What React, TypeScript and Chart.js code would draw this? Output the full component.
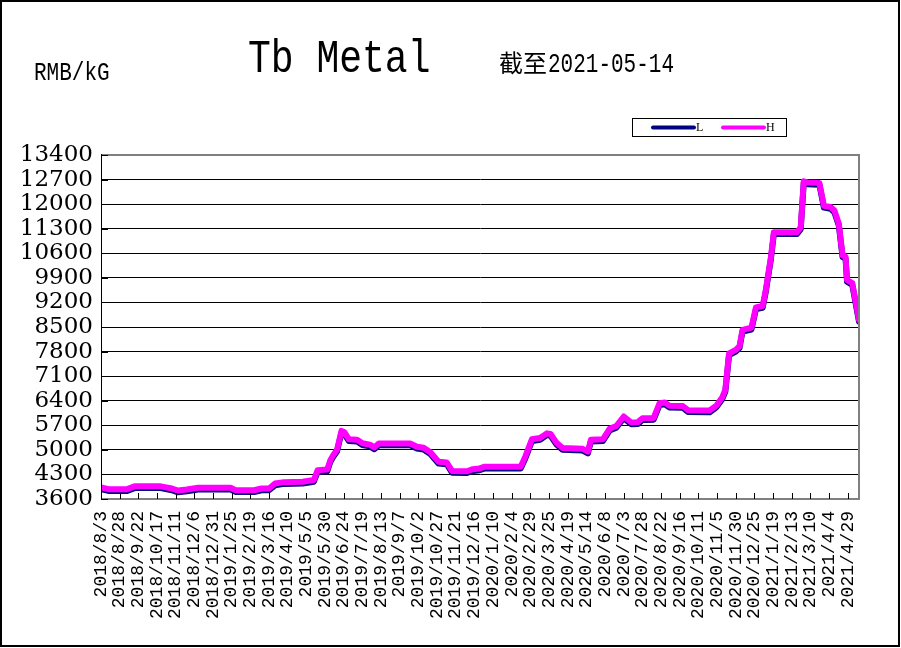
import React, { useEffect, useRef } from "react";
import { Chart, registerables } from "chart.js";

Chart.register(...registerables);

// ---- data ----
const dates: string[] = [
  "2018-08-03", "2018-08-13", "2018-09-07", "2018-09-17", "2018-10-22", "2018-11-06", "2018-11-14", "2018-11-26",
  "2018-12-11", "2019-01-24", "2019-01-30", "2019-02-24", "2019-03-06", "2019-03-16", "2019-03-24", "2019-04-05",
  "2019-04-30", "2019-05-15", "2019-05-20", "2019-06-02", "2019-06-06", "2019-06-10", "2019-06-15", "2019-06-21",
  "2019-06-25", "2019-07-01", "2019-07-12", "2019-07-19", "2019-07-29", "2019-08-04", "2019-08-10", "2019-09-21",
  "2019-09-30", "2019-10-09", "2019-10-18", "2019-10-29", "2019-11-09", "2019-11-16", "2019-12-06", "2019-12-14",
  "2019-12-23", "2019-12-30", "2020-02-16", "2020-02-22", "2020-03-02", "2020-03-13", "2020-03-22", "2020-03-27",
  "2020-04-04", "2020-04-12", "2020-05-09", "2020-05-16", "2020-05-20", "2020-06-05", "2020-06-14", "2020-06-23",
  "2020-07-03", "2020-07-13", "2020-07-22", "2020-07-28", "2020-08-12", "2020-08-20", "2020-08-27", "2020-09-02",
  "2020-09-20", "2020-09-27", "2020-10-26", "2020-11-04", "2020-11-12", "2020-11-16", "2020-11-21", "2020-11-30",
  "2020-12-05", "2020-12-09", "2020-12-21", "2020-12-27", "2021-01-05", "2021-01-09", "2021-01-16", "2021-01-20",
  "2021-02-20", "2021-02-25", "2021-03-01", "2021-03-06", "2021-03-22", "2021-03-28", "2021-04-06", "2021-04-11",
  "2021-04-17", "2021-04-22", "2021-04-26", "2021-04-28", "2021-05-05", "2021-05-14",
];

const highPrices: number[] = [
  3930, 3880, 3880, 3960, 3960, 3900, 3840, 3870,
  3920, 3920, 3850, 3850, 3900, 3900, 4040, 4080,
  4090, 4140, 4420, 4440, 4700, 4850, 5000, 5540,
  5500, 5300, 5290, 5190, 5150, 5070, 5180, 5180,
  5090, 5060, 4930, 4660, 4640, 4400, 4390, 4450,
  4470, 4520, 4520, 4800, 5300, 5340, 5470, 5450,
  5200, 5050, 5030, 4950, 5290, 5300, 5600, 5680,
  5950, 5780, 5790, 5900, 5910, 6330, 6350, 6260,
  6250, 6130, 6120, 6260, 6500, 6710, 7750, 7850,
  7950, 8420, 8480, 9060, 9100, 9530, 10480, 11200,
  11200, 11340, 12650, 12620, 12600, 11950, 11920, 11820,
  11440, 10540, 10500, 9840, 9750, 8700,
];

const lowPrices: number[] = [
  3880, 3830, 3830, 3910, 3910, 3850, 3790, 3820,
  3870, 3870, 3800, 3800, 3850, 3850, 3990, 4030,
  4040, 4090, 4370, 4390, 4650, 4800, 4950, 5490,
  5450, 5250, 5240, 5140, 5100, 5020, 5130, 5130,
  5040, 5010, 4880, 4610, 4590, 4350, 4340, 4400,
  4420, 4470, 4470, 4750, 5250, 5290, 5420, 5400,
  5150, 5000, 4980, 4900, 5240, 5250, 5550, 5630,
  5900, 5730, 5740, 5850, 5860, 6280, 6300, 6210,
  6200, 6080, 6070, 6210, 6450, 6660, 7700, 7800,
  7900, 8370, 8430, 9010, 9050, 9480, 10430, 11150,
  11150, 11290, 12600, 12570, 12550, 11900, 11870, 11770,
  11390, 10490, 10450, 9790, 9700, 8650,
];

const tickLabels: string[] = [
  "2018/8/3", "2018/8/28", "2018/9/22", "2018/10/17", "2018/11/11", "2018/12/6", "2018/12/31",
  "2019/1/25", "2019/2/19", "2019/3/16", "2019/4/10", "2019/5/5", "2019/5/30", "2019/6/24",
  "2019/7/19", "2019/8/13", "2019/9/7", "2019/10/2", "2019/10/27", "2019/11/21", "2019/12/16",
  "2020/1/10", "2020/2/4", "2020/2/29", "2020/3/25", "2020/4/19", "2020/5/14", "2020/6/8",
  "2020/7/3", "2020/7/28", "2020/8/22", "2020/9/16", "2020/10/11", "2020/11/5", "2020/11/30",
  "2020/12/25", "2021/1/19", "2021/2/13", "2021/3/10", "2021/4/4", "2021/4/29",
];

const yTicks: number[] = [3600, 4300, 5000, 5700, 6400, 7100, 7800, 8500, 9200, 9900, 10600, 11300, 12000, 12700, 13400];

const seriesNames: string[] = ["L", "H"];
const seriesColors: string[] = ["#000080", "#FF00FF"];

const titleText = "Tb Metal";
const unitText = "RMB/kG";
const datePrefix = "截至";
const dateText = "2021-05-14";

// ---- helpers ----
function toUTC(s: string): number {
  const parts = s.split(/[-/]/).map((p) => parseInt(p, 10));
  return Date.UTC(parts[0], parts[1] - 1, parts[2]);
}
const baseTime = toUTC(dates[0]);
const dayOf = (s: string) => Math.round((toUTC(s) - baseTime) / 86400000);
const tickDays = tickLabels.map(dayOf);
const lastDay = dayOf(dates[dates.length - 1]);

function scaledText(ctx: CanvasRenderingContext2D, text: string, x: number, y: number, font: string, sy: number) {
  ctx.save();
  ctx.font = font;
  ctx.fillStyle = "#000";
  ctx.textBaseline = "alphabetic";
  ctx.textAlign = "left";
  ctx.translate(x, y);
  ctx.scale(1, sy);
  ctx.fillText(text, 0, 0);
  ctx.restore();
}

const decorPlugin = {
  id: "decor",
  afterDraw(chart: any) {
    const ctx: CanvasRenderingContext2D = chart.ctx;
    const { left, right, top, bottom } = chart.chartArea;
    const xs = chart.scales.x;
    const ys = chart.scales.y;
    ctx.save();

    // plot frame (gray) on top/right/bottom
    ctx.strokeStyle = "#808080";
    ctx.lineWidth = 2;
    ctx.beginPath();
    ctx.moveTo(left, top);
    ctx.lineTo(right, top);
    ctx.lineTo(right, bottom);
    ctx.lineTo(left, bottom);
    ctx.stroke();

    // left axis line
    ctx.strokeStyle = "#000";
    ctx.lineWidth = 1;
    ctx.beginPath();
    ctx.moveTo(left + 0.5, top - 1);
    ctx.lineTo(left + 0.5, bottom + 1);
    ctx.stroke();

    // inner ticks on x axis
    ctx.beginPath();
    tickDays.forEach((d) => {
      const px = Math.round(xs.getPixelForValue(d)) + 0.5;
      ctx.moveTo(px, bottom);
      ctx.lineTo(px, bottom - 6);
    });
    // inner ticks on y axis
    yTicks.forEach((v) => {
      const py = Math.round(ys.getPixelForValue(v)) + 0.5;
      ctx.moveTo(left, py);
      ctx.lineTo(left + 7, py);
    });
    ctx.stroke();

    // outer border
    ctx.fillStyle = "#000";
    ctx.fillRect(0, 0, 900, 2);
    ctx.fillRect(0, 0, 2, 647);
    ctx.fillRect(898, 0, 2, 647);
    ctx.fillRect(0, 645, 900, 2);

    // texts
    scaledText(ctx, titleText, 248, 72, '38px "Liberation Mono"', 1.2);
    scaledText(ctx, unitText, 34, 80, '21px "Liberation Mono"', 1.2);
    ctx.font = '24px "Noto Sans CJK SC"';
    ctx.fillStyle = "#000";
    ctx.textBaseline = "alphabetic";
    ctx.textAlign = "left";
    ctx.fillText(datePrefix, 499, 72);
    scaledText(ctx, dateText, 548, 72, '21px "Liberation Mono"', 1.3);

    // legend
    ctx.strokeStyle = "#000";
    ctx.lineWidth = 1;
    ctx.strokeRect(632.5, 118.5, 154, 18);
    const items = [
      { x0: 653, x1: 694, tx: 696 },
      { x0: 723, x1: 764, tx: 766 },
    ];
    items.forEach((it, i) => {
      ctx.strokeStyle = seriesColors[i];
      ctx.lineWidth = 4;
      ctx.lineCap = "round";
      ctx.beginPath();
      ctx.moveTo(it.x0, 127.5);
      ctx.lineTo(it.x1, 127.5);
      ctx.stroke();
      ctx.fillStyle = "#000";
      ctx.font = '12px "Liberation Serif"';
      ctx.textBaseline = "middle";
      ctx.fillText(seriesNames[i], it.tx, 128);
    });
    ctx.restore();
  },
};

export default function App() {
  const ref = useRef<HTMLCanvasElement | null>(null);
  useEffect(() => {
    document.body.style.margin = "0";
    const canvas = ref.current;
    if (!canvas) return;
    const mk = (vals: number[]) => dates.map((d, i) => ({ x: dayOf(d), y: vals[i] }));
    const chart = new Chart(canvas, {
      type: "line",
      data: {
        datasets: [
          {
            label: seriesNames[0],
            data: mk(lowPrices),
            borderColor: seriesColors[0],
            backgroundColor: seriesColors[0],
            borderWidth: 6,
            pointRadius: 0,
            tension: 0,
            borderJoinStyle: "round",
            borderCapStyle: "round",
            fill: false,
            order: 1,
          },
          {
            label: seriesNames[1],
            data: mk(highPrices),
            borderColor: seriesColors[1],
            backgroundColor: seriesColors[1],
            borderWidth: 6,
            pointRadius: 0,
            tension: 0,
            borderJoinStyle: "round",
            borderCapStyle: "round",
            fill: false,
            order: 0,
          },
        ],
      } as any,
      options: {
        responsive: false,
        animation: false,
        devicePixelRatio: 1,
        layout: { padding: { top: 155, right: 42, bottom: 0, left: 0 } },
        plugins: {
          legend: { display: false },
          title: { display: false },
          tooltip: { enabled: false },
        },
        scales: {
          x: {
            type: "linear",
            min: 0,
            max: lastDay,
            grid: { display: false, drawTicks: false },
            border: { display: false },
            afterBuildTicks: (scale: any) => {
              scale.ticks = tickDays.map((v) => ({ value: v }));
            },
            afterFit: (scale: any) => {
              scale.height = 149;
            },
            ticks: {
              autoSkip: false,
              minRotation: 90,
              maxRotation: 90,
              padding: 12,
              color: "#000",
              font: { family: "Liberation Mono", size: 18 },
              callback: (_v: any, i: number) => tickLabels[i],
            },
          },
          y: {
            type: "linear",
            min: yTicks[0],
            max: yTicks[yTicks.length - 1],
            grid: { color: "#000", lineWidth: 1, drawTicks: false },
            border: { display: true, color: "#000", width: 1 },
            afterBuildTicks: (scale: any) => {
              scale.ticks = yTicks.map((v) => ({ value: v }));
            },
            afterFit: (scale: any) => {
              scale.width = 101;
            },
            ticks: {
              autoSkip: false,
              padding: 8,
              color: "#000",
              font: { family: "DejaVu Serif", size: 23 },
              callback: (v: any) => String(v),
            },
          },
        },
      } as any,
      plugins: [decorPlugin],
    });
    return () => chart.destroy();
  }, []);
  return (
    <div style={{ width: 901, height: 648, background: "#fff" }}>
      <canvas ref={ref} width={901} height={648} style={{ display: "block" }} />
    </div>
  );
}
